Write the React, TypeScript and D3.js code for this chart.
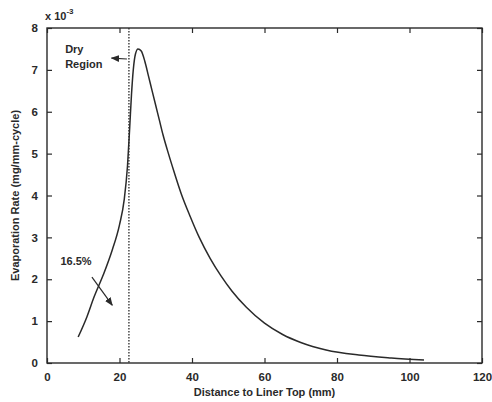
import { useEffect, useRef } from 'react';
import * as d3 from 'd3';

const WIDTH = 492;
const HEIGHT = 402;
const MARGIN = { top: 28, right: 10, bottom: 39, left: 47 };

// distance to liner top (mm) and evaporation rate (x 1e-3 mg/mm-cycle)
const DISTANCE = [8.6, 11.0, 13.0, 15.5, 18.0, 20.0, 21.3, 22.2, 22.8, 23.3, 23.8, 24.4, 25.1, 26.0, 27.0, 28.0, 29.0, 30.0, 31.0, 32.0, 33.5, 35.0, 37.0, 39.5, 42.0, 45.0, 48.0, 51.0, 55.0, 60.0, 65.0, 70.0, 77.0, 86.0, 95.0, 104.0];
const RATE = [0.62, 1.1, 1.58, 2.1, 2.7, 3.3, 3.9, 4.7, 5.6, 6.4, 7.0, 7.38, 7.5, 7.45, 7.2, 6.85, 6.5, 6.15, 5.8, 5.45, 5.0, 4.58, 4.05, 3.5, 3.0, 2.5, 2.08, 1.72, 1.33, 0.95, 0.68, 0.49, 0.31, 0.19, 0.12, 0.07];

const X_TICKS = [0, 20, 40, 60, 80, 100, 120];
const Y_TICKS = [0, 1, 2, 3, 4, 5, 6, 7, 8];
const DRY_EDGE = 22.6;

const INK = '#2a2a2a';
const FONT = 'Arial, "Liberation Sans", sans-serif';

export default function App() {
  const svgRef = useRef<SVGSVGElement>(null);

  useEffect(() => {
    const svg = d3.select(svgRef.current);
    svg.selectAll('*').remove();

    const w = WIDTH - MARGIN.left - MARGIN.right;
    const h = HEIGHT - MARGIN.top - MARGIN.bottom;
    const g = svg.append('g').attr('transform', `translate(${MARGIN.left},${MARGIN.top})`);

    const x = d3.scaleLinear().domain([0, 120]).range([0, w]);
    const y = d3.scaleLinear().domain([0, 8]).range([h, 0]);

    const styleAxis = (sel: any, hideText: boolean) => {
      sel.select('.domain').remove();
      sel.selectAll('.tick line').attr('stroke', INK).attr('stroke-width', 1.2);
      sel.selectAll('text')
        .style('font-family', FONT)
        .style('font-size', '11.5px')
        .style('font-weight', 700)
        .attr('fill', INK);
      if (hideText) sel.selectAll('text').remove();
    };

    // bottom / left with labels, top / right ticks only (inward)
    g.append('g').attr('transform', `translate(0,${h})`)
      .call(d3.axisBottom(x).tickValues(X_TICKS).tickSize(-5).tickPadding(10).tickFormat(d3.format('d')))
      .call((s) => styleAxis(s, false));
    g.append('g')
      .call(d3.axisLeft(y).tickValues(Y_TICKS).tickSize(-5).tickPadding(9).tickFormat(d3.format('d')))
      .call((s) => styleAxis(s, false));
    g.append('g')
      .call(d3.axisTop(x).tickValues(X_TICKS).tickSize(-5))
      .call((s) => styleAxis(s, true));
    g.append('g').attr('transform', `translate(${w},0)`)
      .call(d3.axisRight(y).tickValues(Y_TICKS).tickSize(-5))
      .call((s) => styleAxis(s, true));

    g.append('rect')
      .attr('width', w).attr('height', h)
      .attr('fill', 'none').attr('stroke', INK).attr('stroke-width', 1.4);

    // dry region boundary
    g.append('line')
      .attr('x1', x(DRY_EDGE)).attr('x2', x(DRY_EDGE))
      .attr('y1', 0).attr('y2', h)
      .attr('stroke', INK).attr('stroke-width', 1.3).attr('stroke-dasharray', '1.5,1.5');

    const pts = DISTANCE.map((d, i) => [d, RATE[i]] as [number, number]);
    const line = d3.line<[number, number]>()
      .x((d) => x(d[0]))
      .y((d) => y(d[1]))
      .curve(d3.curveMonotoneX);
    g.append('path')
      .datum(pts)
      .attr('d', line)
      .attr('fill', 'none')
      .attr('stroke', INK)
      .attr('stroke-width', 1.5);

    // arrow heads
    const defs = svg.append('defs');
    defs.append('marker')
      .attr('id', 'arr')
      .attr('viewBox', '0 0 10 10')
      .attr('refX', 9).attr('refY', 5)
      .attr('markerWidth', 7).attr('markerHeight', 7)
      .attr('orient', 'auto-start-reverse')
      .append('path').attr('d', 'M0,1 L10,5 L0,9 Z').attr('fill', INK);

    // "Dry Region" annotation
    const t1 = g.append('text')
      .attr('x', x(5)).attr('y', y(7.4))
      .style('font-family', FONT).style('font-size', '11px').style('font-weight', 700)
      .attr('fill', INK);
    t1.append('tspan').attr('x', x(5)).text('Dry');
    t1.append('tspan').attr('x', x(5)).attr('dy', 15).text('Region');
    g.append('line')
      .attr('x1', x(DRY_EDGE) - 2).attr('y1', y(7.26))
      .attr('x2', x(17.8)).attr('y2', y(7.28))
      .attr('stroke', INK).attr('stroke-width', 1.2)
      .attr('marker-end', 'url(#arr)');

    // "16.5%" annotation
    g.append('text')
      .attr('x', x(3.7)).attr('y', y(2.34))
      .style('font-family', FONT).style('font-size', '11px').style('font-weight', 700)
      .attr('fill', INK)
      .text('16.5%');
    g.append('line')
      .attr('x1', x(12.4)).attr('y1', y(2.05))
      .attr('x2', x(18.0)).attr('y2', y(1.38))
      .attr('stroke', INK).attr('stroke-width', 1.2)
      .attr('marker-end', 'url(#arr)');

    // exponent label
    const ex = svg.append('text')
      .attr('x', MARGIN.left - 2).attr('y', MARGIN.top - 8)
      .style('font-family', FONT).style('font-size', '11px').style('font-weight', 700)
      .attr('fill', INK);
    ex.append('tspan').text('x 10');
    ex.append('tspan').attr('dy', -6).style('font-size', '8px').text('-3');

    // axis titles
    svg.append('text')
      .attr('x', MARGIN.left + w / 2).attr('y', HEIGHT - 6)
      .attr('text-anchor', 'middle')
      .style('font-family', FONT).style('font-size', '11px').style('font-weight', 700)
      .attr('fill', INK)
      .text('Distance to Liner Top (mm)');
    svg.append('text')
      .attr('transform', `translate(19,${MARGIN.top + h / 2}) rotate(-90)`)
      .attr('text-anchor', 'middle')
      .style('font-family', FONT).style('font-size', '11px').style('font-weight', 700)
      .attr('fill', INK)
      .text('Evaporation Rate (mg/mm-cycle)');
  }, []);

  return (
    <svg
      ref={svgRef}
      width={WIDTH}
      height={HEIGHT}
      style={{ position: 'absolute', left: 0, top: 0, background: '#fff' }}
    />
  );
}
